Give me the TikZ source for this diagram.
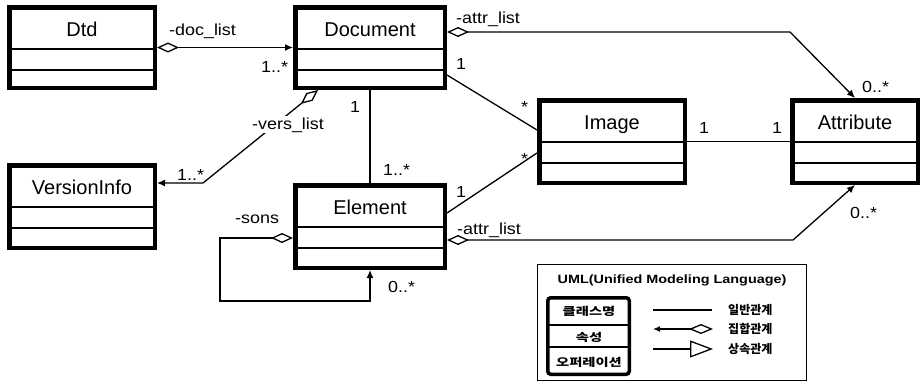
\documentclass[tikz,border=0pt]{standalone}
\usepackage{fontspec}
\usepackage{graphicx}
\setmainfont{Liberation Sans}
\newfontfamily\lblfont{Liberation Sans}[FakeStretch=1.12]
\newfontfamily\legfont{Liberation Sans}[FakeStretch=1.2]
\newfontfamily\krfont{Noto Sans CJK KR}
\newfontfamily\krwide{Noto Sans CJK KR}[FakeStretch=1.3]
\usetikzlibrary{arrows.meta,calc}

\tikzset{
  cls/.style={draw, line width=4.5pt, inner sep=0pt, outer sep=2.25pt},
  ctitle/.style={anchor=base, inner sep=0pt, font=\fontsize{20}{22}\selectfont},
  div/.style={line width=1.2pt},
  conn/.style={line width=1.3pt},
  aggtail/.style={{Diamond[open,length=22pt,width=10pt]}-{Latex[length=8pt,width=7pt]}},
  lbl/.style={anchor=base west, inner sep=0pt, font=\lblfont\fontsize{16}{18}\selectfont},
  krrow/.style={inner sep=0pt, font=\krwide\bfseries\fontsize{11}{12}\selectfont},
  krlbl/.style={anchor=west, inner sep=0pt, font=\krfont\bfseries\fontsize{12}{13}\selectfont},
}

% class box: name, x1, y1, x2, y2 (outer edges), title
\newcommand\umlclass[6]{%
  \node[cls, minimum width={#4-#2-4.5}, minimum height={#5-#3-4.5}] (#1) at ({(#2+#4)/2},{(#3+#5)/2}) {};
  \node[ctitle] (#1-name) at ({(#2+#4)/2},{#3+31}) {#6};
  \draw[div] (#2,{#3+44}) -- (#4,{#3+44});
  \draw[div] (#2,{#3+65}) -- (#4,{#3+65});
}

\begin{document}
\begin{tikzpicture}[x=1pt, y=-1pt]
\useasboundingbox (0,0) rectangle (923,383);

% classes
\umlclass{dtd}{7}{5}{157}{90}{Dtd}
\umlclass{doc}{293}{5}{447}{90}{Document}
\umlclass{ver}{7}{163}{157}{250}{VersionInfo}
\umlclass{elem}{293}{183}{447}{270}{Element}
\umlclass{img}{537}{98}{687}{185}{Image}
\umlclass{attr}{790}{98}{920}{185}{Attribute}

% associations
\draw[conn, aggtail] (dtd.east) -- (doc.west);
\draw[conn, aggtail] ($(doc.north east)+(0,27)$) -- ($(attr.north west)+(0,-66)$) -- (attr.north);
\draw[conn] ($(doc.north east)+(0,70)$) -- ($(img.north west)+(0,32)$);
\draw[conn] (doc.south) -- (elem.north);
\draw[conn, aggtail] ($(doc.south west)+(25,0)$) -- ($(ver.north east)+(46,20)$) -- ($(ver.north east)+(0,20)$);
\draw[conn] ($(elem.north east)+(0,30)$) -- ($(img.north west)+(0,55)$);
\draw[conn, aggtail] ($(elem.north east)+(0,57)$) -- ($(attr.south west)+(3,55)$) -- (attr.south);
\draw[conn] (img.east) -- (attr.west);
\draw[conn, aggtail] ($(elem.north west)+(0,55)$) -- ++(-73,0) |- ($(elem.south)+(0,31)$) -- (elem.south);

% role names and multiplicities
\node[lbl] (l1) at (169,35) {-doc\_list};
\node[lbl] (l2) at (261,72) {1..*};
\node[lbl] (l3) at (456,23) {-attr\_list};
\node[lbl] (l4) at (862,92) {0..*};
\node[lbl] (l5) at (456,69) {1};
\node[lbl] (l6) at (521,112) {*};
\node[lbl] (l7) at (350,112) {1};
\node[lbl] (l8) at (383,175) {1..*};
\node[lbl, fill=white, inner sep=1pt] (l9) at (251,129) {-vers\_list};
\node[lbl] (l10) at (177,180) {1..*};
\node[lbl] (l11) at (456,197) {1};
\node[lbl] (l12) at (521,164) {*};
\node[lbl] (l13) at (457,234) {-attr\_list};
\node[lbl] (l14) at (850,218) {0..*};
\node[lbl] (l15) at (699,133) {1};
\node[lbl] (l16) at (772,133) {1};
\node[lbl] (l17) at (235,223) {-sons};
\node[lbl] (l18) at (388,292) {0..*};

% legend
\node[draw, line width=1.2pt, minimum width=268.8, minimum height=115.8, inner sep=0pt] (legend) at (672,322.5) {};
\node[anchor=base, inner sep=0pt, font=\legfont\bfseries\fontsize{12}{14}\selectfont] (legtitle) at (672,283) {UML(Unified Modeling Language)};
\node[draw, line width=3.5pt, rounded corners=3pt, minimum width=81.5, minimum height=76.5, inner sep=0pt] (legcls) at (588.5,336) {};
\draw[line width=2pt] ($(legcls.north west)+(0,29)$) -- ($(legcls.north east)+(0,29)$);
\draw[line width=2pt] ($(legcls.north west)+(0,51)$) -- ($(legcls.north east)+(0,51)$);
\node[krrow] (k1) at (589,311) {클래스명};
\node[krrow] (k2) at (589,337) {속성};
\node[krrow] (k3) at (589,362) {오퍼레이션};

\coordinate (g1a) at (653,310); \coordinate (g1b) at (712,310);
\coordinate (g2a) at (653,329); \coordinate (g2b) at (713,329);
\coordinate (g3a) at (653,349); \coordinate (g3b) at (713,349);
\draw[conn] (g1a) -- (g1b);
\draw[conn, {Latex[length=7pt,width=6pt]}-{Diamond[open,length=24pt,width=10pt]}] (g2a) -- (g2b);
\draw[conn, -{Triangle[open,length=23pt,width=17pt]}] (g3a) -- (g3b);
\node[krlbl] (k4) at (728,310) {일반관계};
\node[krlbl] (k5) at (728,329) {집합관계};
\node[krlbl] (k6) at (728,349) {상속관계};
\end{tikzpicture}
\end{document}
